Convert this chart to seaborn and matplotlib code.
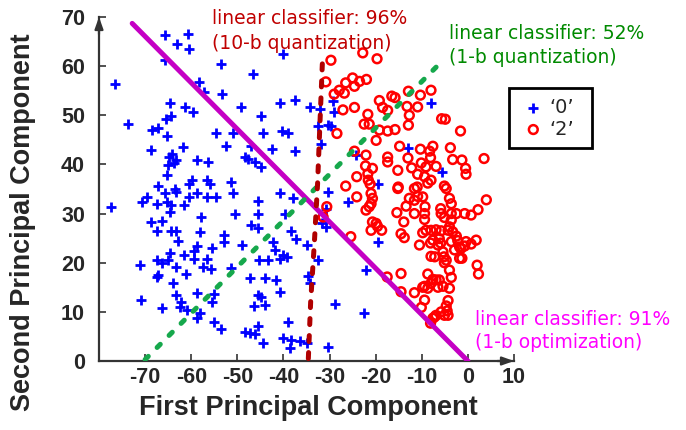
import matplotlib
matplotlib.use("Agg")
import matplotlib.pyplot as plt
import numpy as np
import pandas as pd
import seaborn as sns

# Projections of digit '0' samples onto the first two principal components
zero_x = [-65.7, -60.7, -63.0, -60.5, -65.6, -76.5, -58.3, -57.2, -64.6, -61.4,
          -59.6, -64.3, -65.4, -73.7, -67.2, -68.5, -65.2, -54.7, -61.7, -68.7,
          -64.1, -64.8, -63.4, -58.7, -56.4, -65.1, -63.8, -65.2, -59.8, -60.5,
          -56.5, -55.9, -67.2, -63.6, -63.2, -65.6, -58.7, -60.5, -56.5, -54.7,
          -69.6, -70.7, -67.5, -65.2, -64.3, -61.5, -77.5, -64.5, -57.8, -68.8,
          -66.3, -67.4, -64.3, -63.2, -58.1, -62.8, -58.7, -55.4, -59.4, -64.6,
          -61.5, -67.4, -65.1, -66.3, -71.2, -59.3, -63.4, -56.5, -57.4, -55.8,
          -61.2, -67.2, -67.5, -63.9, -63.2, -58.8, -55.1, -71.0, -62.2, -62.5,
          -66.3, -60.9, -58.1, -55.1, -58.8, -55.4,
          -40.2, -53.5, -46.5, -53.3, -37.5, -40.8, -49.3, -34.3, -32.1, -44.8,
          -32.5, -30.3, -50.9, -44.4, -40.4, -39.0, -29.6, -52.4, -42.4, -37.4,
          -47.0, -48.4, -47.7, -46.2, -44.8, -31.9, -51.3, -50.9, -45.5, -40.8,
          -37.9, -30.3, -30.7, -50.6, -45.5, -39.7, -47.1, -45.5, -31.7, -30.8,
          -38.3, -37.2, -52.9, -52.8, -49.0, -42.2, -41.9, -40.1, -39.3, -40.8,
          -45.2, -43.3, -35.0, -32.5, -51.3, -47.3, -44.1, -41.7, -40.8, -34.6,
          -34.3, -45.5, -44.8, -44.1, -46.4, -28.8, -53.5, -48.4, -47.3, -45.5,
          -46.2, -39.0, -44.4, -40.1, -38.3, -36.5, -35.0, -38.6, -30.4,
          -29.3, -29.0, -8.0, -13.0, -24.3, -5.7, -19.6, -26.1, -19.4, -22.1,
          -22.6]
zero_y = [66.3, 66.6, 64.6, 63.5, 61.3, 56.3, 56.8, 54.7, 52.4, 51.6,
          50.7, 49.9, 49.3, 48.3, 47.5, 47.0, 45.7, 46.4, 43.6, 42.9,
          42.2, 41.5, 40.9, 40.9, 40.5, 39.8, 40.2, 37.8, 36.9, 36.1,
          36.9, 36.1, 35.6, 35.1, 34.4, 34.1, 34.2, 33.4, 33.3, 33.3,
          33.4, 32.4, 31.9, 32.4, 31.7, 31.8, 31.4, 30.3, 29.3, 28.3,
          28.5, 26.5, 26.5, 26.5, 26.2, 24.5, 23.4, 22.9, 22.4, 21.9,
          21.5, 20.5, 20.5, 19.9, 19.5, 20.8, 19.2, 20.7, 19.2, 18.8,
          17.7, 17.5, 17.1, 15.8, 13.4, 13.9, 13.6, 12.5, 12.1, 11.0,
          10.7, 10.4, 9.7, 8.0, 8.7, 12.1,
          62.5, 60.5, 58.5, 54.3, 53.2, 52.4, 51.7, 51.6, 51.2, 49.8,
          47.8, 48.0, 46.4, 46.3, 46.8, 46.3, 47.8, 43.7, 43.2, 42.7,
          43.7, 41.5, 41.2, 40.5, 39.5, 44.2, 36.4, 34.1, 32.6, 34.2,
          33.1, 34.4, 31.0, 30.0, 30.0, 30.0, 27.6, 27.0, 28.0, 27.2,
          26.5, 24.9, 25.6, 24.3, 23.6, 24.3, 22.6, 21.5, 21.2, 20.7,
          20.5, 20.5, 23.6, 20.5, 19.0, 16.8, 16.8, 16.5, 14.1, 17.3,
          15.8, 13.4, 13.1, 11.4, 11.2, 11.7, 6.6, 5.8, 5.6, 7.1,
          5.5, 8.0, 3.7, 4.6, 4.3, 4.1, 3.7, 2.6, 2.8,
          53.0, 50.7, 52.5, 43.4, 41.9, 38.5, 36.1, 32.4, 24.3, 18.6,
          9.8]

# Projections of digit '2' samples
two_x = [-29.7, -19.7, -22.8, -30.8, -25.0, -23.5, -22.0, -26.5, -27.9, -26.8,
         -24.6, -29.0, -19.2, -16.5, -15.8, -12.9, -10.3, -8.0, -18.5, -17.4,
         -27.1, -24.6, -13.2, -10.9, -12.7, -21.7, -22.5, -21.4, -19.2, -17.4,
         -15.8, -12.9, -5.7, -4.9, -1.6, -28.4, -19.9, -14.8, -10.3, -7.6,
         -8.3, -3.8, -24.6, -22.1, -17.4, -17.4, -13.0, -10.1, -8.1, -3.3,
         -1.3, 3.5, -22.2, -20.7, -15.2, -12.2, -9.1, -6.9, -0.5, -21.7,
         -24.1, -10.9, -9.4, -8.0, -0.4, -21.6, -21.2, -15.1, -11.0, -26.5,
         -5.1,
         -24.1, -21.0, -20.7, -21.0, -21.4, -22.1, -15.2, -11.6, -8.7, -10.9,
         -11.6, -12.7, -9.8, -4.7, -4.0, -3.6, 4.0, -13.4, -9.3, -15.4,
         -11.6, -9.4, -9.4, -5.9, -5.8, -5.1, -3.6, -3.6, -2.5, -0.7,
         0.7, 2.2, -13.9, -20.7, -19.9, -21.0, -18.7, -19.6, -9.1, -9.8,
         -8.0, -6.9, -5.8, -4.3, -3.3, -4.0, -2.5, -2.2, -3.6, -1.8,
         -6.2, -5.9, -6.5, -8.1, -7.6, -0.4, -0.7, -1.5, 1.8, 0.7,
         -10.5, -14.5, -13.8, -5.4, -5.2, -4.7, -8.0, -7.2, -2.9, -1.8,
         -1.3, -5.1, -4.0, -3.6, 2.0, 2.3, -14.5, -17.5, -8.7, -7.6,
         -6.9, -6.2, -8.0, -9.4, -8.7, -9.8, -6.5, -5.4, -4.0, -14.5,
         -11.6, -9.4, -4.3, -4.7, -4.5, -4.3, -5.1, -5.8, -10.1, -6.9,
         -7.6, -8.1, -7.2, -30.6, -31.4, -25.4]
two_y = [61.2, 61.5, 62.7, 56.8, 57.6, 56.9, 57.3, 56.6, 55.1, 54.5,
         55.9, 54.3, 53.0, 53.9, 53.6, 54.9, 54.1, 55.1, 51.6, 51.0,
         51.1, 51.6, 51.8, 51.7, 50.0, 50.2, 48.2, 48.2, 47.0, 46.8,
         47.1, 48.0, 49.3, 49.2, 46.8, 46.3, 44.9, 43.7, 43.1, 43.7,
         42.7, 43.4, 42.7, 41.9, 41.5, 40.5, 41.3, 40.3, 41.4, 41.0,
         40.9, 41.2, 39.7, 39.2, 38.8, 39.3, 39.5, 39.6, 39.2, 38.1,
         37.5, 38.0, 37.5, 36.8, 38.0, 36.8, 36.0, 35.4, 35.4, 35.6,
         35.6,
         33.4, 34.1, 33.1, 32.0, 31.4, 30.7, 35.1, 35.1, 36.2, 33.5,
         32.7, 33.1, 33.4, 35.1, 33.1, 32.0, 32.8, 31.5, 31.4, 30.2,
         30.0, 30.0, 28.8, 31.0, 30.0, 29.2, 30.0, 28.7, 30.0, 30.0,
         29.7, 30.8, 28.3, 28.3, 28.0, 26.6, 26.6, 27.4, 26.6, 26.1,
         26.6, 26.7, 26.5, 26.6, 26.3, 27.3, 25.4, 24.5, 24.3, 23.2,
         24.9, 24.0, 23.6, 24.0, 24.6, 24.3, 23.4, 22.9, 24.6, 23.8,
         23.6, 25.9, 25.1, 22.2, 21.2, 20.5, 21.3, 21.2, 22.6, 20.9,
         20.9, 20.0, 18.5, 17.0, 19.5, 17.7, 17.8, 17.1, 17.7, 16.6,
         16.5, 16.5, 15.8, 15.2, 14.8, 15.0, 15.0, 15.2, 14.8, 14.1,
         13.9, 12.4, 12.3, 11.2, 10.2, 9.3, 9.3, 10.0, 10.9, 9.3,
         8.7, 7.7, 9.0, 31.4, 29.3, 25.3]

# Decision boundaries of the three linear classifiers
opt_x = [-72.8, 0.0]
opt_y = [68.7, 0.0]
q1_x = [-70.0, -5.4]
q1_y = [0.3, 61.2]
q10_x = [-34.6, -34.1, -33.3, -32.6, -32.1, -31.5]
q10_y = [0.5, 12.0, 24.0, 36.0, 48.0, 62.0]

x_ticks = [-70, -60, -50, -40, -30, -20, -10, 0, 10]
y_ticks = [0, 10, 20, 30, 40, 50, 60, 70]
class_labels = ["\u20180\u2019", "\u20182\u2019"]

zeros = pd.DataFrame({"pc1": zero_x, "pc2": zero_y})
twos = pd.DataFrame({"pc1": two_x, "pc2": two_y})

sns.set_style("ticks")
plt.rcParams["font.family"] = ["DejaVu Sans"]
plt.rcParams["xtick.direction"] = "in"
plt.rcParams["ytick.direction"] = "in"

W, H = 686, 430
fig = plt.figure(figsize=(W / 100, H / 100), dpi=100)
ax = fig.add_axes([99 / W, 1 - 361 / H, 415 / W, 344 / H])

sns.scatterplot(data=zeros, x="pc1", y="pc2", ax=ax, marker="+", s=62,
                color="#0000ff", linewidth=2.0, label=class_labels[0], zorder=2)
sns.scatterplot(data=twos, x="pc1", y="pc2", ax=ax, marker="o", s=40,
                color="#ff0000", facecolor="none", edgecolor="#ff0000",
                linewidth=1.8, label=class_labels[1], zorder=2)

ax.plot(opt_x, opt_y, color="#c400c4", lw=3.6, solid_capstyle="round", zorder=4)
ax.plot(q1_x, q1_y, color="#16a84c", lw=3.6, dashes=(0.9, 2.5),
        dash_capstyle="round", zorder=4)
ax.plot(q10_x, q10_y, color="#b00000", lw=3.6, dashes=(1.2, 2.2),
        dash_capstyle="round", zorder=4)

ax.set_xlim(-80, 10)
ax.set_ylim(0, 70)
ax.set_xticks(x_ticks)
ax.set_yticks(y_ticks)
tick_font = dict(family=["Liberation Sans", "DejaVu Sans"], weight="bold", size=15.5)
ax.set_xticklabels([str(t) for t in x_ticks], fontdict=tick_font)
ax.set_yticklabels([str(t) for t in y_ticks], fontdict=tick_font)
ax.tick_params(direction="in", length=5, width=1.2, color="#333333")
ax.tick_params(axis="x", pad=4)
ax.tick_params(axis="y", pad=10)

sns.despine(ax=ax)
for side in ("left", "bottom"):
    ax.spines[side].set_linewidth(1.6)
    ax.spines[side].set_color("#333333")

arrow = dict(arrowstyle="-|>,head_length=0.7,head_width=0.25", color="#333333",
             lw=1.6, shrinkA=0, shrinkB=0)
ax.annotate("", xy=(0, 1.0), xytext=(0, 0.95), xycoords="axes fraction",
            arrowprops=arrow, annotation_clip=False)
ax.annotate("", xy=(1.0, 0), xytext=(0.96, 0), xycoords="axes fraction",
            arrowprops=arrow, annotation_clip=False)

label_font = dict(family=["Liberation Sans", "DejaVu Sans"], weight="bold", size=19.5)
ax.set_xlabel("First Principal Component", fontdict=label_font)
ax.set_ylabel("Second Principal Component", fontdict=label_font)
ax.xaxis.set_label_coords(0.504, -0.1)
ax.yaxis.set_label_coords(-0.152, 0.404)

# Classifier accuracy notes
notes = [
    (212, 24, "linear classifier: 96%", "#c00000"),
    (212, 49, "(10-b quantization)", "#c00000"),
    (449, 39, "linear classifier: 52%", "#008a00"),
    (449, 63, "(1-b quantization)", "#008a00"),
    (475, 325, "linear classifier: 91%", "#ff00ff"),
    (475, 348, "(1-b optimization)", "#ff00ff"),
]
for px, py, txt, col in notes:
    fig.text(px / W, 1 - py / H, txt, color=col, fontsize=13.5,
             ha="left", va="baseline")

handles, _ = ax.get_legend_handles_labels()
leg = ax.legend(handles, class_labels, loc="upper left",
                bbox_to_anchor=(509 / W, 1 - 88 / H, 83 / W, 0),
                bbox_transform=fig.transFigure, mode="expand",
                borderaxespad=0, frameon=True, fancybox=False,
                framealpha=1, edgecolor="black", fontsize=14,
                borderpad=0.5, handlelength=1.5, handletextpad=0.1,
                labelspacing=0.15)
leg.get_frame().set_linewidth(2)

fig.savefig("out.png", dpi=100)
